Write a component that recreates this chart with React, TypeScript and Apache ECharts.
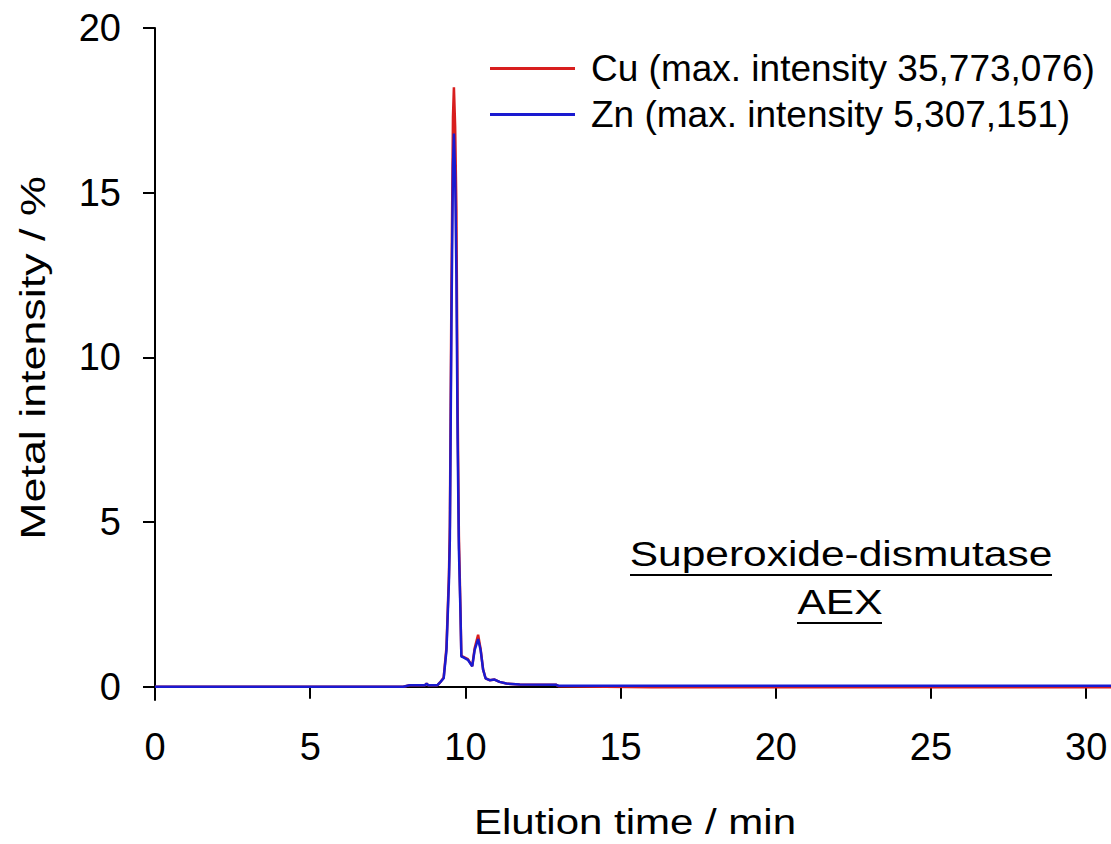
import React, { useEffect, useRef } from "react";
import * as echarts from "echarts";

const times = [0, 4, 8.0, 8.2, 8.7, 8.75, 8.8, 9.1, 9.2, 9.3, 9.39, 9.47, 9.5, 9.55, 9.6, 9.63, 9.67, 9.71, 9.75, 9.79, 9.84, 9.87, 9.92, 10.08, 10.22, 10.3, 10.41, 10.49, 10.57, 10.65, 10.78, 10.94, 11.1, 11.32, 11.75, 12.93, 13.0, 16.0, 20, 25, 30.8];
const znValues = [0, 0, 0, 0.05, 0.05, 0.1, 0.05, 0.05, 0.15, 0.26, 1.1, 3.2, 4.5, 11.0, 15.8, 16.8, 15.5, 12.5, 7.5, 4.2, 2.3, 0.92, 0.9, 0.82, 0.62, 1.12, 1.45, 1.12, 0.52, 0.26, 0.2, 0.22, 0.15, 0.1, 0.07, 0.06, 0.03, 0.03, 0.03, 0.03, 0.03];
const cuValues = [0, 0, 0, 0.05, 0.05, 0.1, 0.05, 0.05, 0.15, 0.28, 1.2, 3.4, 4.9, 12.0, 17.3, 18.2, 17.0, 14.5, 8.5, 4.6, 2.4, 0.95, 0.92, 0.84, 0.63, 1.18, 1.58, 1.15, 0.53, 0.26, 0.2, 0.22, 0.15, 0.1, 0.07, 0.06, 0.02, -0.01, -0.01, -0.01, -0.01];
const yTicks = [0, 5, 10, 15, 20];
const seriesNames = ["Cu (max. intensity 35,773,076)", "Zn (max. intensity 5,307,151)"];
const xTitle = "Elution time / min";
const yTitle = "Metal intensity / %";
const noteLines = ["Superoxide-dismutase", "AEX"];

const FONT = "Liberation Sans, Arial, sans-serif";
const CU_COLOR = "#d81e1e";
const ZN_COLOR = "#1a1ad0";

export default function App() {
  const ref = useRef<HTMLDivElement>(null);
  useEffect(() => {
    document.body.style.margin = "0";
    const chart = echarts.init(ref.current!, null, { renderer: "svg" });
    const pairs = (vals: number[]) => times.map((t, i) => [t, vals[i]]);
    chart.setOption({
      animation: false,
      backgroundColor: "#ffffff",
      grid: { left: 155, right: 0, top: 28, bottom: 144 },
      legend: {
        orient: "vertical",
        left: 490,
        top: 50,
        padding: 0,
        itemWidth: 85,
        itemHeight: 3,
        itemGap: 9,
        icon: "rect",
        textStyle: { fontSize: 37, fontFamily: FONT, color: "#000", padding: [0, 0, 0, 11] },
        data: seriesNames,
      },
      xAxis: {
        type: "value",
        min: 0,
        max: 30.8,
        interval: 5,
        axisLine: { lineStyle: { color: "#000", width: 2 } },
        axisTick: { inside: false, length: 12, lineStyle: { color: "#000", width: 2 } },
        axisLabel: { fontSize: 38, fontFamily: FONT, color: "#000", margin: 28, showMaxLabel: false },
        splitLine: { show: false },
      },
      yAxis: {
        type: "value",
        min: -0.4,
        max: 20,
        axisLine: { show: true, lineStyle: { color: "#000", width: 2 } },
        axisTick: { show: true, length: 12, lineStyle: { color: "#000", width: 2 }, customValues: yTicks },
        axisLabel: { fontSize: 38, fontFamily: FONT, color: "#000", margin: 34, customValues: yTicks },
        splitLine: { show: false },
      },
      series: [
        {
          name: seriesNames[0],
          type: "line",
          data: pairs(cuValues),
          symbol: "none",
          lineStyle: { color: CU_COLOR, width: 2.5 },
          itemStyle: { color: CU_COLOR },
        },
        {
          name: seriesNames[1],
          type: "line",
          data: pairs(znValues),
          symbol: "none",
          lineStyle: { color: ZN_COLOR, width: 2.5 },
          itemStyle: { color: ZN_COLOR },
        },
      ],
      graphic: [
        {
          type: "text",
          x: 635,
          y: 822,
          scaleX: 1.2,
          style: { text: xTitle, fontSize: 35, fontFamily: FONT, fill: "#000", align: "center", verticalAlign: "middle" },
        },
        {
          type: "text",
          x: 33,
          y: 358,
          rotation: Math.PI / 2,
          scaleX: 1.28,
          style: { text: yTitle, fontSize: 35, fontFamily: FONT, fill: "#000", align: "center", verticalAlign: "middle" },
        },
        {
          type: "text",
          x: 841,
          y: 553,
          scaleX: 1.18,
          style: { text: noteLines[0], fontSize: 36, fontFamily: FONT, fill: "#000", align: "center", verticalAlign: "middle" },
        },
        {
          type: "line",
          shape: { x1: 630, y1: 575, x2: 1052, y2: 575 },
          style: { stroke: "#000", lineWidth: 2 },
        },
        {
          type: "text",
          x: 840,
          y: 601,
          scaleX: 1.18,
          style: { text: noteLines[1], fontSize: 36, fontFamily: FONT, fill: "#000", align: "center", verticalAlign: "middle" },
        },
        {
          type: "line",
          shape: { x1: 797, y1: 623, x2: 882, y2: 623 },
          style: { stroke: "#000", lineWidth: 2 },
        },
      ],
    });
    return () => chart.dispose();
  }, []);
  return <div ref={ref} style={{ width: 1111, height: 844 }} />;
}
